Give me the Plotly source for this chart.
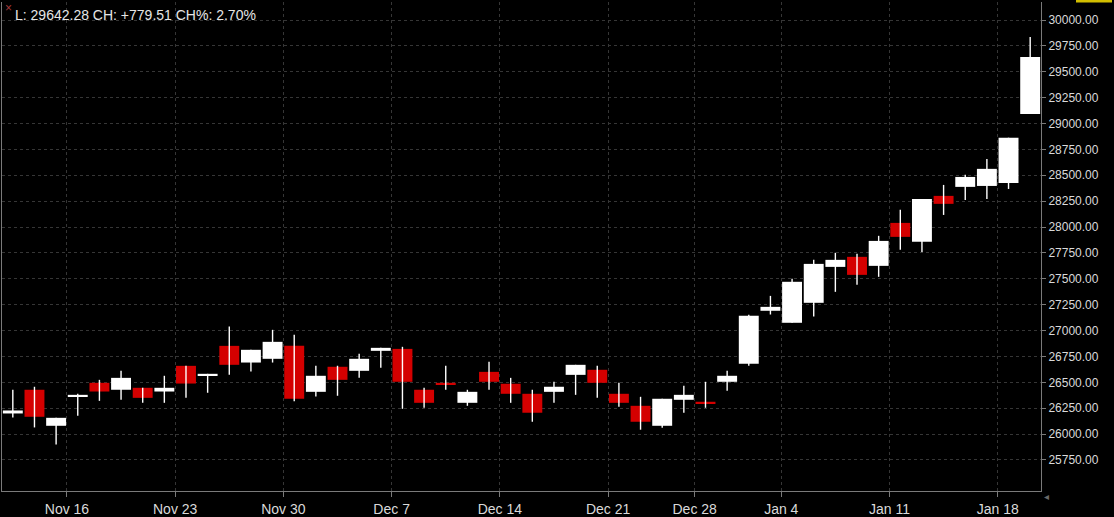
import plotly.graph_objects as go
from datetime import date

# ---------------- data (Hang Seng daily) ----------------
dates = [
    "2020-11-11", "2020-11-12", "2020-11-13",
    "2020-11-16", "2020-11-17", "2020-11-18", "2020-11-19", "2020-11-20",
    "2020-11-23", "2020-11-24", "2020-11-25", "2020-11-26", "2020-11-27",
    "2020-11-30", "2020-12-01", "2020-12-02", "2020-12-03", "2020-12-04",
    "2020-12-07", "2020-12-08", "2020-12-09", "2020-12-10", "2020-12-11",
    "2020-12-14", "2020-12-15", "2020-12-16", "2020-12-17", "2020-12-18",
    "2020-12-21", "2020-12-22", "2020-12-23", "2020-12-24",
    "2020-12-28", "2020-12-29", "2020-12-30", "2020-12-31",
    "2021-01-04", "2021-01-05", "2021-01-06", "2021-01-07", "2021-01-08",
    "2021-01-11", "2021-01-12", "2021-01-13", "2021-01-14", "2021-01-15",
    "2021-01-18", "2021-01-19",
]
opens = [
    26199, 26428, 26080,
    26360, 26495, 26428, 26447, 26411,
    26659, 26563, 26852, 26691, 26727,
    26852, 26408, 26650, 26611, 26804,
    26823, 26428, 26495, 26302, 26601,
    26486, 26389, 26408, 26572, 26621,
    26389, 26273, 26080, 26331,
    26312, 26505, 26679, 27191,
    27075, 27268, 27615, 27712, 27625,
    28040, 27857, 28301, 28388, 28397,
    28426, 29093,
]
highs = [
    26428, 26457, 26157,
    26389, 26524, 26611, 26447, 26563,
    26659, 26582, 27039, 26814, 27007,
    26959, 26660, 26660, 26776, 26833,
    26843, 26447, 26660, 26428, 26698,
    26543, 26428, 26505, 26669, 26660,
    26495, 26360, 26341, 26466,
    26505, 26611, 27152, 27335,
    27500, 27683, 27751, 27741, 27915,
    28166, 28272, 28407, 28504, 28658,
    28862.77, 29836,
]
lows = [
    26160, 26064, 25900,
    26177, 26321, 26331, 26302, 26302,
    26350, 26399, 26572, 26604, 26691,
    26318, 26363, 26370, 26543, 26640,
    26244, 26254, 26428, 26273, 26428,
    26302, 26119, 26302, 26379, 26350,
    26263, 26042, 26061, 26206,
    26254, 26418, 26660, 27155,
    27075, 27136, 27374, 27442, 27519,
    27780, 27760, 28117, 28262, 28272,
    28368, 29093,
]
closes = [
    26228, 26167, 26157,
    26379, 26411, 26543, 26350, 26447,
    26488, 26582, 26669, 26814, 26891,
    26341, 26563, 26524, 26727, 26833,
    26505, 26302, 26476, 26408, 26505,
    26389, 26206, 26457, 26669, 26495,
    26302, 26119, 26341, 26379,
    26293, 26563, 27143, 27229,
    27471, 27644, 27683, 27538, 27866,
    27905, 28272, 28224, 28484, 28562,
    28862.77, 29642.28,
]
y_ticks = [25750 + 250 * k for k in range(18)]
header_text = "L: 29642.28 CH: +779.51 CH%: 2.70%"

# ---------------- styling ----------------
UP = "#ffffff"
DOWN = "#d40000"
WICK = "#ffffff"
GRID = "#363636"
AXIS = "#7a7a7a"
TXT = "#dadada"
FONT = "Liberation Sans, Arial, sans-serif"

idx = list(range(len(dates)))
parsed = [date.fromisoformat(d) for d in dates]

tickvals, ticktext = [], []
for i, d in enumerate(parsed):
    if d.weekday() == 0:
        tickvals.append(i - 0.5)
        ticktext.append(d.strftime("%b ") + str(d.day))

# wicks
wx, wy = [], []
for i in idx:
    wx += [i, i, None]
    wy += [lows[i], highs[i], None]

body_base = [min(o, c) for o, c in zip(opens, closes)]
body_h = [max(abs(c - o), 1e-9) for o, c in zip(opens, closes)]
body_col = [UP if c >= o else DOWN for o, c in zip(opens, closes)]

fig = go.Figure()
fig.add_trace(go.Scatter(
    x=wx, y=wy, mode="lines",
    line=dict(color=WICK, width=1.4),
    hoverinfo="skip", connectgaps=False,
))
fig.add_trace(go.Bar(
    x=idx, y=body_h, base=body_base, width=0.92,
    marker=dict(color=body_col, line=dict(width=0)),
    hoverinfo="skip",
))

L, R, T, B = 2, 73, 2, 26
W, H = 1114, 517
pw, ph = W - L - R, H - T - B


def px_x(p):
    return (p - L) / pw


def px_y(p):
    return 1 - (p - T) / ph


fig.update_layout(
    width=W, height=H,
    margin=dict(l=L, r=R, t=T, b=B, pad=0, autoexpand=False),
    paper_bgcolor="#000000", plot_bgcolor="#000000",
    showlegend=False,
    font=dict(family=FONT, color=TXT),
    xaxis=dict(
        range=[-0.5, len(dates) - 0.5],
        tickmode="array", tickvals=tickvals, ticktext=ticktext,
        showgrid=True, gridcolor=GRID, gridwidth=1, griddash="3px,3px",
        zeroline=False, showline=True, linecolor=AXIS, linewidth=1,
        ticks="outside", ticklen=5, tickcolor=AXIS, tickwidth=1,
        tickfont=dict(size=14, color=TXT, family=FONT),
        layer="below traces",
        fixedrange=True,
    ),
    yaxis=dict(
        side="right",
        range=[25450, 30174],
        tickmode="array", tickvals=y_ticks, tickformat=".2f",
        showgrid=True, gridcolor=GRID, gridwidth=1, griddash="3px,3px",
        zeroline=False, showline=True, mirror=True, linecolor=AXIS, linewidth=1,
        ticks="outside", ticklen=4, tickcolor=AXIS, tickwidth=1,
        tickfont=dict(size=12, color=TXT, family=FONT),
        layer="below traces",
        fixedrange=True,
    ),
    annotations=[
        dict(text=header_text, xref="paper", yref="paper",
             x=px_x(13), y=px_y(5), xanchor="left", yanchor="top",
             showarrow=False, font=dict(size=14, color="#e6e6e6", family=FONT)),
        dict(text="×", xref="paper", yref="paper",
             x=px_x(8), y=px_y(8), xanchor="center", yanchor="middle",
             showarrow=False, font=dict(size=12, color="#a33a3a", family=FONT)),
        dict(text="◂", xref="paper", yref="paper",
             x=px_x(1046), y=px_y(497), xanchor="center", yanchor="middle",
             showarrow=False, font=dict(size=10, color="#6a6a6a", family="DejaVu Sans")),
    ],
    shapes=[
        dict(type="rect", xref="paper", yref="paper",
             x0=px_x(1076), x1=px_x(1112), y0=px_y(2.5), y1=px_y(-10),
             line=dict(width=0), fillcolor="#d2be00", layer="above"),
    ],
)

fig.write_html(
    "out.html",
    config={"displayModeBar": False},
    post_script="document.body.style.margin='0';document.body.style.padding='0';"
                "document.body.style.background='#000';",
)
